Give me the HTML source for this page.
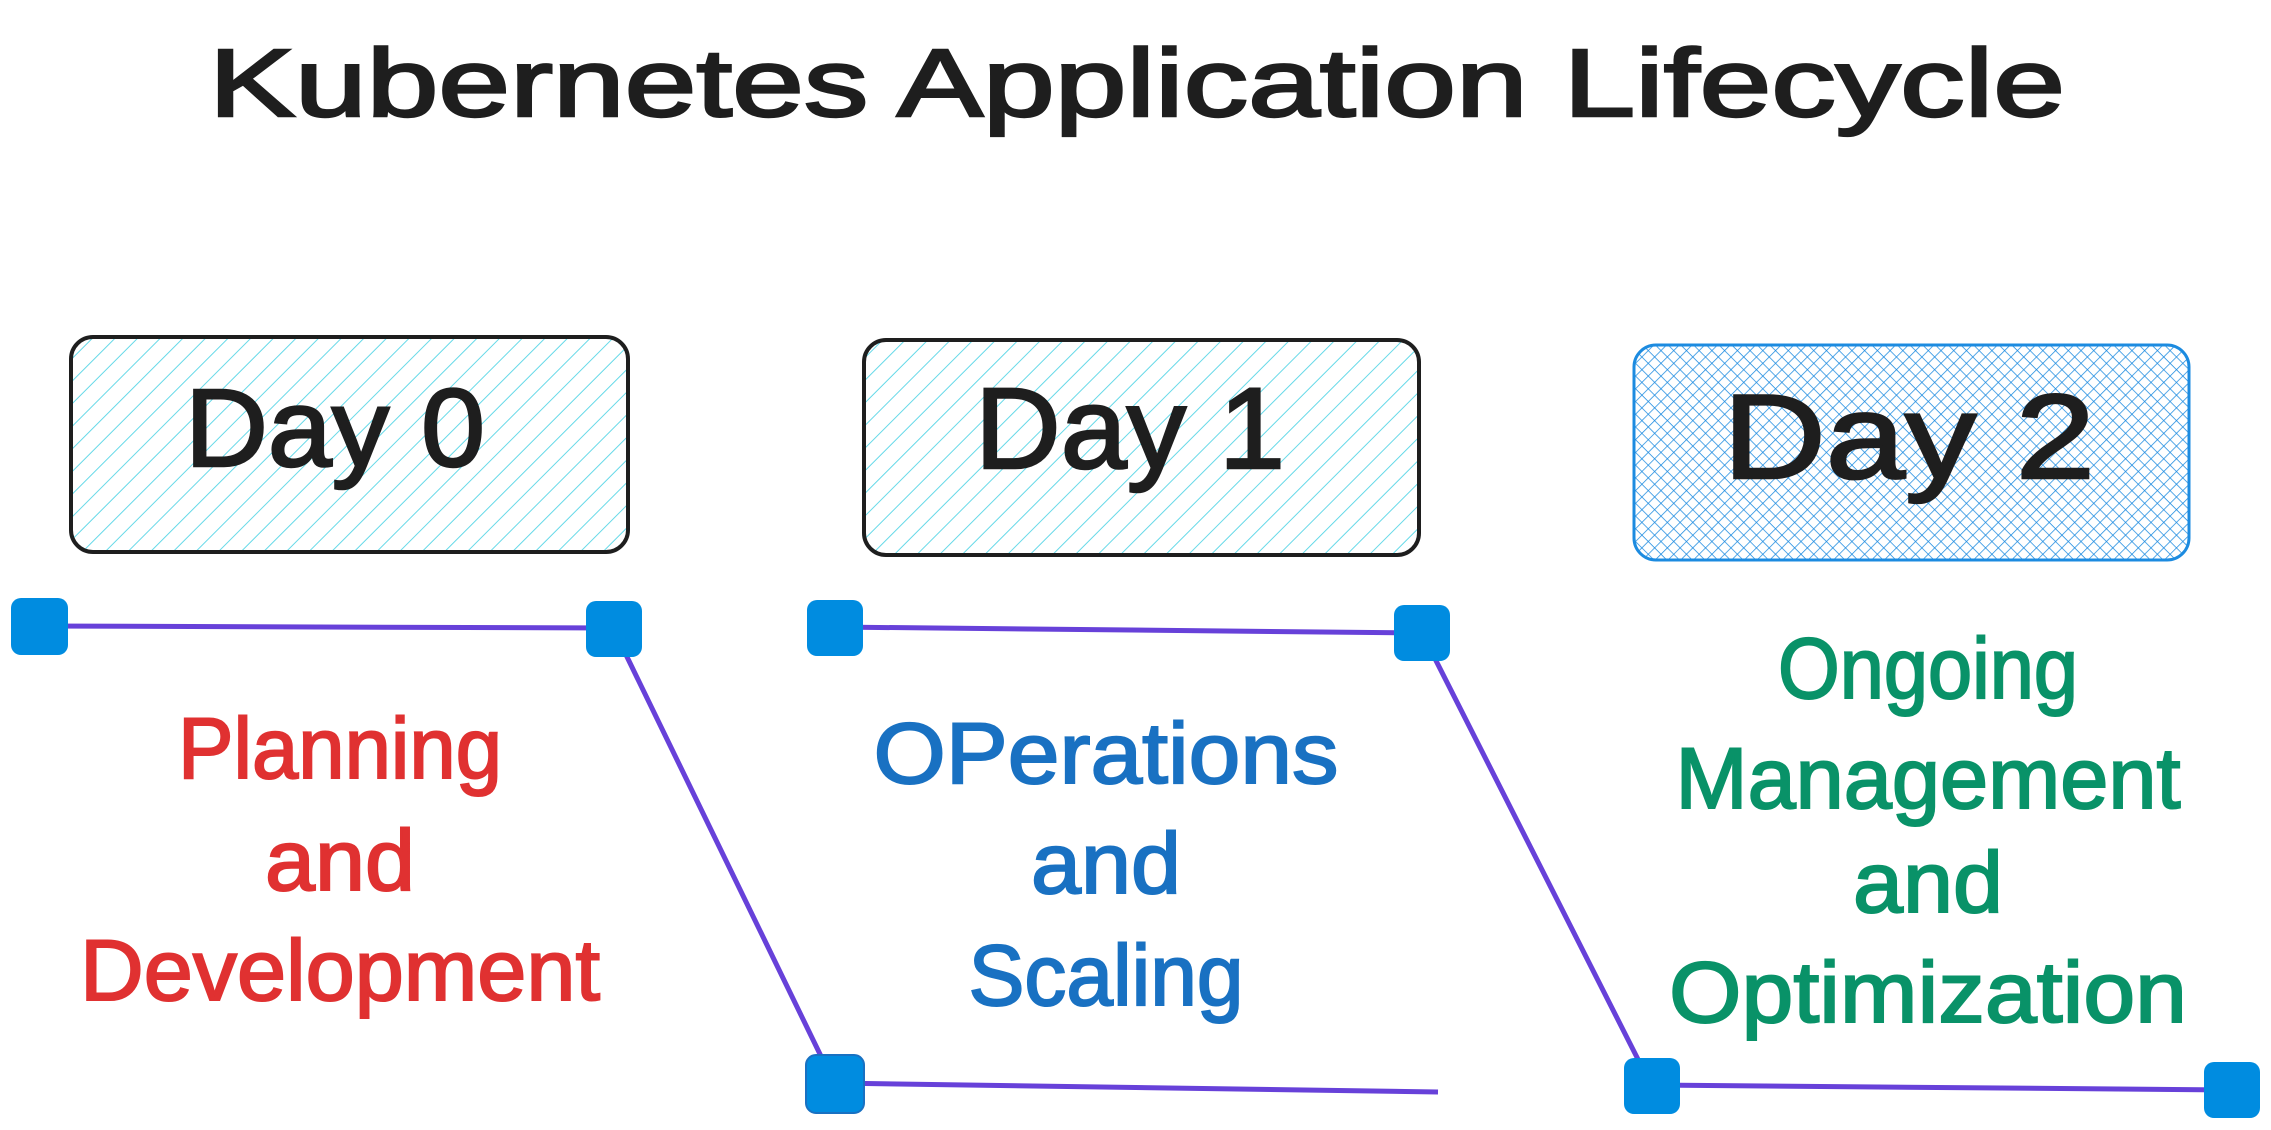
<!DOCTYPE html>
<html><head><meta charset="utf-8"><style>html,body{margin:0;padding:0;background:#fff}svg{display:block}</style></head>
<body>
<svg width="2271" height="1130" viewBox="0 0 2271 1130" xmlns="http://www.w3.org/2000/svg">
<defs>
<pattern id="h1" width="16" height="16" patternUnits="userSpaceOnUse" patternTransform="rotate(45)">
<line x1="0" y1="0" x2="0" y2="16" stroke="#66d9e8" stroke-width="2"/></pattern>
<pattern id="h2" width="9" height="9" patternUnits="userSpaceOnUse" patternTransform="rotate(45)">
<line x1="0" y1="0" x2="0" y2="9" stroke="#1c8be0" stroke-width="1.5"/><line x1="0" y1="0" x2="9" y2="0" stroke="#1c8be0" stroke-width="1.5"/></pattern>
</defs>
<g font-family="'Liberation Sans', sans-serif" text-anchor="middle">
<text x="1137" y="116" font-size="96" fill="#1e1e1e" stroke="#1e1e1e" stroke-width="2.5" textLength="1856" lengthAdjust="spacingAndGlyphs">Kubernetes Application Lifecycle</text>

<rect x="71" y="337" width="557" height="215" rx="22" fill="url(#h1)" stroke="#1e1e1e" stroke-width="4"/>
<rect x="864" y="340" width="555" height="215" rx="22" fill="url(#h1)" stroke="#1e1e1e" stroke-width="4"/>
<rect x="1634" y="345" width="555" height="215" rx="22" fill="url(#h2)" stroke="#1c8be0" stroke-width="3"/>
<g fill="#1e1e1e" stroke="#1e1e1e" stroke-width="2.5">
<text x="335" y="466" font-size="110" textLength="300" lengthAdjust="spacingAndGlyphs">Day 0</text>
<text x="1130" y="468" font-size="115" textLength="310" lengthAdjust="spacingAndGlyphs">Day 1</text>
<text x="1909" y="478" font-size="120" textLength="372" lengthAdjust="spacingAndGlyphs">Day 2</text>
</g>

<g fill="none" stroke="#6741d9" stroke-width="5">
<polyline points="39,626 613,628 834,1083 1438,1092"/>
<polyline points="834,627 1422,633 1651,1085 2231,1090"/>
</g>
<g fill="#008ce0">
<rect x="11" y="598" width="57" height="57" rx="10"/>
<rect x="586" y="601" width="56" height="56" rx="10"/>
<rect x="807" y="600" width="56" height="56" rx="10"/>
<rect x="1394" y="605" width="56" height="56" rx="10"/>
<rect x="806" y="1055" width="58" height="58" rx="10" stroke="#1971c2" stroke-width="2"/>
<rect x="1624" y="1058" width="56" height="56" rx="10"/>
<rect x="2204" y="1062" width="56" height="56" rx="10"/>
</g>

<g font-size="86" fill="#e03131" stroke="#e03131" stroke-width="2">
<text x="340" y="778" textLength="324" lengthAdjust="spacingAndGlyphs">Planning</text>
<text x="340" y="890" textLength="150" lengthAdjust="spacingAndGlyphs">and</text>
<text x="340" y="1000" textLength="520" lengthAdjust="spacingAndGlyphs">Development</text>
</g>
<g font-size="86" fill="#1971c2" stroke="#1971c2" stroke-width="2">
<text x="1106" y="783" textLength="465" lengthAdjust="spacingAndGlyphs">OPerations</text>
<text x="1106" y="893" textLength="150" lengthAdjust="spacingAndGlyphs">and</text>
<text x="1106" y="1005" textLength="275" lengthAdjust="spacingAndGlyphs">Scaling</text>
</g>
<g font-size="86" fill="#099268" stroke="#099268" stroke-width="2">
<text x="1928" y="698" textLength="300" lengthAdjust="spacingAndGlyphs">Ongoing</text>
<text x="1928" y="808" textLength="505" lengthAdjust="spacingAndGlyphs">Management</text>
<text x="1928" y="912" textLength="150" lengthAdjust="spacingAndGlyphs">and</text>
<text x="1928" y="1022" textLength="518" lengthAdjust="spacingAndGlyphs">Optimization</text>
</g>
</g>
</svg>
</body></html>
